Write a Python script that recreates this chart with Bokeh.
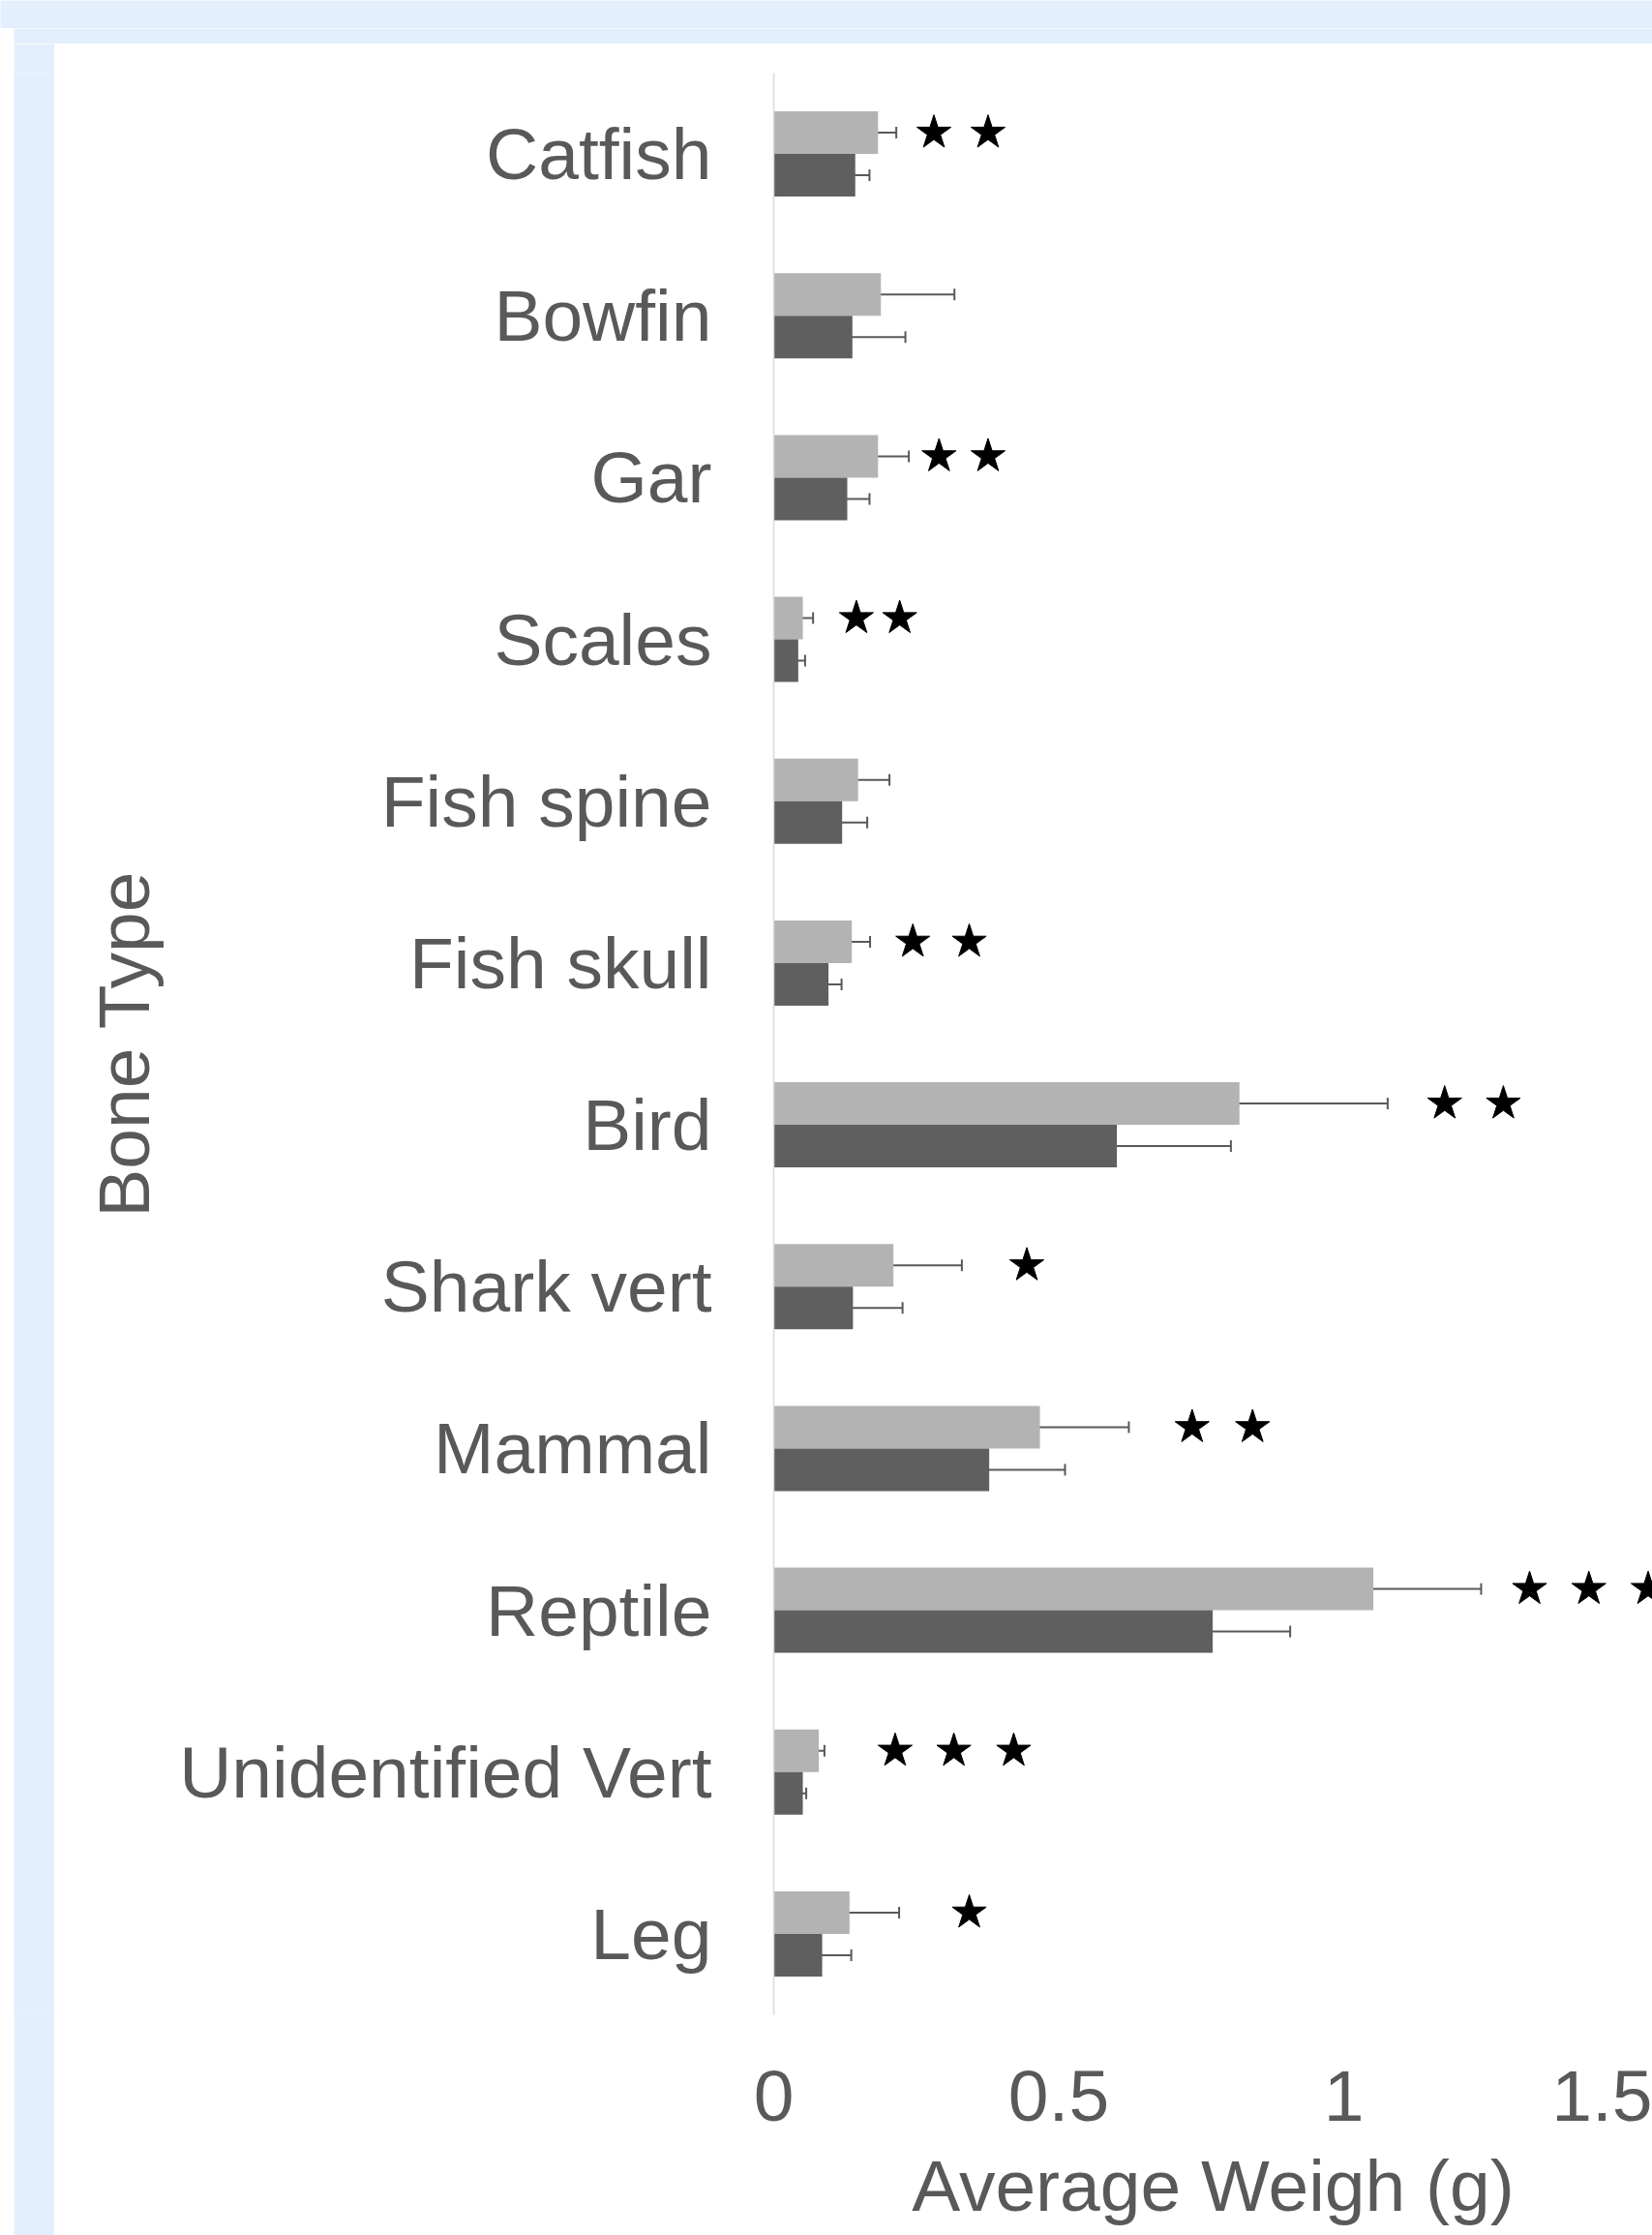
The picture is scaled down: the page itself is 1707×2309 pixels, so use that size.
from bokeh.plotting import figure
from bokeh.models import (ColumnDataSource, FactorRange, Range1d, Whisker, TeeHead,
                          FixedTicker, CustomJSTickFormatter)
from bokeh.transform import dodge
from bokeh.layouts import column, row
from bokeh.embed import file_html
from bokeh.resources import INLINE

# ---------------- data ----------------
categories = ["Catfish", "Bowfin", "Gar", "Scales", "Fish spine", "Fish skull",
              "Bird", "Shark vert", "Mammal", "Reptile", "Unidentified Vert", "Leg"]
light_vals = [0.183, 0.188, 0.183, 0.051, 0.148, 0.137, 0.817, 0.210, 0.467, 1.052, 0.079, 0.133]
light_err = [0.032, 0.129, 0.054, 0.018, 0.055, 0.032, 0.260, 0.120, 0.156, 0.189, 0.010, 0.087]
dark_vals = [0.143, 0.138, 0.129, 0.043, 0.120, 0.096, 0.602, 0.139, 0.378, 0.770, 0.051, 0.085]
dark_err = [0.025, 0.093, 0.039, 0.012, 0.044, 0.023, 0.200, 0.087, 0.133, 0.136, 0.006, 0.051]
# significance stars (x position of each star, per category)
star_x = [[0.281, 0.376], [], [0.290, 0.376], [0.145, 0.221], [], [0.244, 0.343],
          [1.177, 1.280], [0.444], [0.734, 0.840], [1.326, 1.430, 1.534],
          [0.213, 0.316, 0.421], [0.343]]
x_ticks = [0, 0.5, 1, 1.5]
x_title = "Average Weigh (g)"
y_title = "Bone Type"

# ---------------- style ----------------
FONT = "Liberation Sans"
FS = "75px"
TEXT = "#595959"
BAND = "#e3effc"
LIGHT = "#b3b3b3"
DARK = "#5f5f5f"
AXIS = "#d9d9d9"

src = ColumnDataSource(dict(
    cat=categories,
    light=light_vals,
    dark=dark_vals,
    light_lo=[v - e for v, e in zip(light_vals, light_err)],
    light_hi=[v + e for v, e in zip(light_vals, light_err)],
    dark_lo=[v - e for v, e in zip(dark_vals, dark_err)],
    dark_hi=[v + e for v, e in zip(dark_vals, dark_err)],
))
s_cat, s_x = [], []
for c, xs in zip(categories, star_x):
    for xv in xs:
        s_cat.append(c)
        s_x.append(xv)
star_src = ColumnDataSource(dict(cat=s_cat, x=s_x))

p = figure(y_range=FactorRange(factors=categories[::-1]), x_range=Range1d(0, 1.5416),
           frame_width=908, frame_height=2006,
           min_border_left=743, min_border_right=0, min_border_top=30, min_border_bottom=228,
           output_backend="svg", toolbar_location=None)
p.outline_line_color = None
p.xgrid.grid_line_color = None
p.ygrid.grid_line_color = None
p.background_fill_color = "white"
p.border_fill_color = "white"

OFF = 0.1315
BH = 0.263
p.hbar(y=dodge("cat", OFF, range=p.y_range), left=0, right="light", height=BH,
       fill_color=LIGHT, line_color=None, source=src)
p.hbar(y=dodge("cat", -OFF, range=p.y_range), left=0, right="dark", height=BH,
       fill_color=DARK, line_color=None, source=src)

for off, lo, hi in [(OFF, "light_lo", "light_hi"), (-OFF, "dark_lo", "dark_hi")]:
    w = Whisker(source=src, base=dodge("cat", off, range=p.y_range), lower=lo, upper=hi,
                dimension="width", line_color=TEXT, line_width=2,
                upper_head=TeeHead(size=12, line_color=TEXT, line_width=2),
                lower_head=TeeHead(size=12, line_color=TEXT, line_width=2))
    p.add_layout(w)

p.scatter(x="x", y=dodge("cat", OFF, range=p.y_range), marker="star", size=37,
          fill_color="black", line_color="black", source=star_src)

# y axis (categories)
ya = p.yaxis[0]
ya.axis_label = y_title
ya.axis_label_text_font = FONT
ya.axis_label_text_font_size = FS
ya.axis_label_text_font_style = "normal"
ya.axis_label_text_color = TEXT
ya.axis_label_standoff = 12
ya.major_label_text_font = FONT
ya.major_label_text_font_size = FS
ya.major_label_text_color = TEXT
ya.major_tick_line_color = None
ya.major_tick_out = 0
ya.major_tick_in = 0
ya.minor_tick_line_color = None
ya.major_label_standoff = 64
ya.axis_line_color = AXIS
ya.axis_line_width = 1.5

# x axis
xa = p.xaxis[0]
xa.ticker = FixedTicker(ticks=x_ticks)
xa.formatter = CustomJSTickFormatter(code="return tick.toString();")
xa.axis_label = x_title
xa.axis_label_text_font = FONT
xa.axis_label_text_font_size = FS
xa.axis_label_text_font_style = "normal"
xa.axis_label_text_color = TEXT
xa.axis_label_standoff = 22
xa.major_label_text_font = FONT
xa.major_label_text_font_size = FS
xa.major_label_text_color = TEXT
xa.major_tick_line_color = None
xa.major_tick_out = 0
xa.major_tick_in = 0
xa.minor_tick_line_color = None
xa.major_label_standoff = 58
xa.axis_line_color = None


def band(w, h, color=BAND):
    b = figure(width=w, height=h, x_axis_type=None, y_axis_type=None,
               output_backend="svg", toolbar_location=None, min_border=0)
    b.outline_line_color = None
    b.background_fill_color = color
    b.border_fill_color = color
    b.xgrid.grid_line_color = None
    b.ygrid.grid_line_color = None
    return b


top = band(1707, 29)
white_strip = band(14, 2280, "white")
mid_band = band(1693, 16)
left = band(42, 2264)
layout = column(top, row(white_strip, column(mid_band, row(left, p))))

open("out.html", "w").write(file_html(layout, INLINE))
